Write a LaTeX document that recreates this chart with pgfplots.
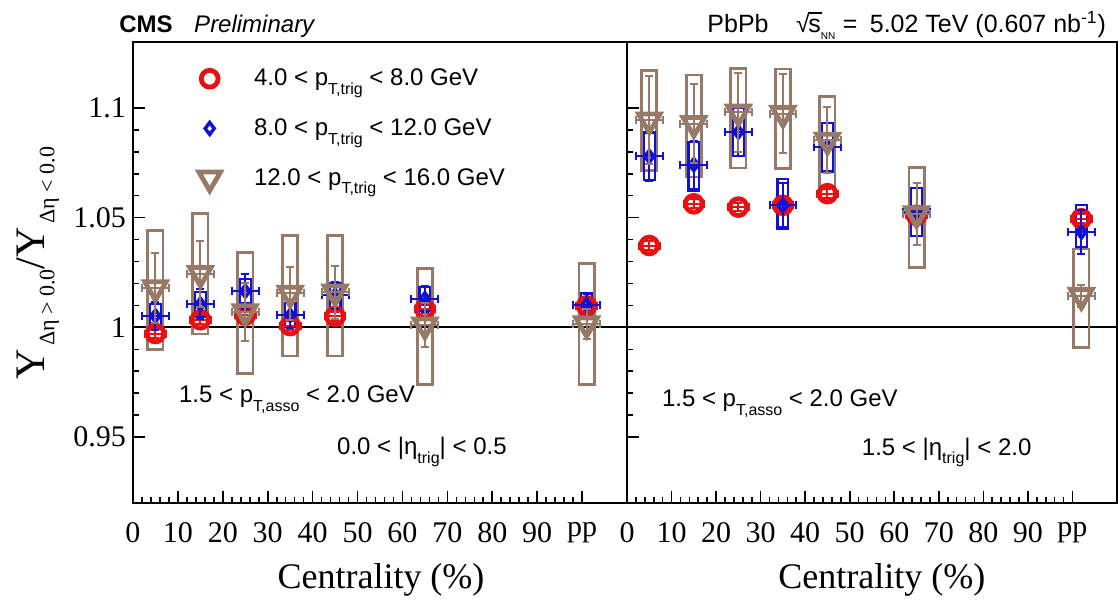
\documentclass[border=0pt]{standalone}
\usepackage{fontspec}
\setmainfont{Liberation Serif}
\newfontfamily\hv{Liberation Sans}
\usepackage{pgfplots}
\usepackage{pgfplotstable}
\pgfplotsset{compat=1.18}
\definecolor{cred}{RGB}{232,16,16}
\definecolor{cblue}{RGB}{16,16,214}
\definecolor{cbrown}{RGB}{150,121,102}

% x: centrality bin centre (pp plotted at ~101), y: ratio, ex/ey: stat. errors
\pgfplotstableread{
x y ex ey
5 0.9972 2.3 0.002
15 1.0035 2.3 0.002
25 1.0055 2.3 0.002
35 1.0008 2.3 0.002
45 1.0050 2.3 0.002
65 1.0084 2.3 0.002
101 1.0098 2.3 0.002
}\Lred
\pgfplotstableread{
x y ex ey
5 1.0052 3 0.0065
15 1.0106 3 0.007
25 1.0165 3 0.008
35 1.0055 3 0.006
45 1.0146 3 0.006
65 1.0130 3 0.006
101 1.0102 3 0.005
}\Lblue
\pgfplotstableread{
x y ex ey
5 1.0180 3 0.016
15 1.0245 3 0.015
25 1.0070 3 0.013
35 1.0155 3 0.012
45 1.0160 3 0.012
65 1.0010 3 0.010
101 1.0015 3 0.007
}\Lbrown
\pgfplotstableread{
x y ex ey
5 1.0373 2.3 0.002
15 1.0563 2.3 0.002
25 1.0548 2.3 0.002
35 1.0556 2.3 0.002
45 1.0609 2.3 0.002
65 1.0510 2.3 0.002
102 1.0495 2.3 0.002
}\Rred
\pgfplotstableread{
x y ex ey
5 1.0779 3 0.011
15 1.0741 3 0.011
25 1.0890 3 0.011
35 1.0556 3 0.010
45 1.0822 3 0.011
65 1.0525 3 0.011
102 1.0434 3 0.010
}\Rblue
\pgfplotstableread{
x y ex ey
5 1.0944 3 0.020
15 1.0928 3 0.018
25 1.0980 3 0.018
35 1.0974 3 0.018
45 1.0852 3 0.015
65 1.0517 3 0.014
102 1.0145 3 0.005
}\Rbrown

\pgfplotsset{
  cmsaxis/.style={
    scale only axis, height=230.5pt,
    xmin=0, xmax=110, ymin=0.92, ymax=1.13,
    xtick={0,10,...,100}, xticklabels={0,10,20,30,40,50,60,70,80,90,pp},
    minor x tick num=4,
    ytick={0.95,1,1.05,1.1}, minor y tick num=4,
    tick align=inside, xtick pos=left, ytick pos=left,
    major tick length=6pt, minor tick length=3pt,
    every tick/.style={black, line width=0.8pt},
    axis line style={line width=1pt},
    ticklabel style={font=\fontsize{15}{15}\selectfont},
    /pgf/number format/assume math mode=true,
    xticklabel style={yshift=-6pt},
    xlabel={Centrality (\%)},
    xlabel style={font=\fontsize{18}{18}\selectfont, anchor=center},
    unbounded coords=jump,
    clip mode=individual,
  },
  boxbrown/.style={forget plot, draw=cbrown, line width=1.4pt, line cap=rect, mark=none},
  boxblue/.style={forget plot, draw=cblue, line width=1.1pt, line cap=rect, mark=none},
  ebars/.style={error bars/.cd, x dir=both, x explicit, y dir=both, y explicit,
     error bar style={line width=1pt}, error mark options={rotate=90, mark size=2pt, line width=1pt}},
  sred/.style={only marks, color=cred, mark=o, mark size=4.2pt, mark options={line width=2.4pt}, ebars},
  sblue/.style={only marks, color=cblue, mark=diamond, mark size=3pt, mark options={line width=1.7pt}, ebars},
  sbrown/.style={only marks, color=cbrown, mark=triangle, mark size=6.2pt, mark options={rotate=180, line width=2.4pt}, ebars},
}
\tikzset{txt/.style={anchor=base west, font=\hv\fontsize{12}{12}\selectfont}}
\newcommand{\sub}[1]{\raisebox{-0.7ex}{\fontsize{8}{8}\selectfont #1}}

\begin{document}
\begin{tikzpicture}
\useasboundingbox (-66.5pt,-49pt) rectangle (492.5pt,251.5pt);
\begin{axis}[cmsaxis, width=247pt, at={(0pt,0pt)}, anchor=south west,
  ylabel={Y\raisebox{-0.5ex}{\fontsize{11}{11}\selectfont\,Δη > 0.0}/Y\raisebox{-0.5ex}{\fontsize{11}{11}\selectfont\,Δη < 0.0}},
  ylabel style={at={(axis description cs:-0.192,0.52)}, anchor=center, font=\fontsize{21}{21}\selectfont},
  xlabel style={at={(axis description cs:0.502,0)}, yshift=-38.5pt},
  legend style={at={(rel axis cs:0.101,0.96)}, anchor=north west, draw=none, fill=none,
    font=\hv\fontsize{12}{14}\selectfont, row sep=11pt},
  legend image code/.code={\draw[#1] plot coordinates {(0pt,0pt)}; \path (-10pt,0pt) (20pt,0pt);},
  legend cell align=left]
\addplot[black, line width=1pt, forget plot] coordinates {(0,1) (110,1)};
\addplot[boxbrown] coordinates {
(3.3,0.990) (6.7,0.990) (6.7,1.044) (3.3,1.044) (3.3,0.990) (5,nan)
(13.3,0.997) (16.7,0.997) (16.7,1.052) (13.3,1.052) (13.3,0.997) (15,nan)
(23.3,0.979) (26.7,0.979) (26.7,1.034) (23.3,1.034) (23.3,0.979) (25,nan)
(33.3,0.987) (36.7,0.987) (36.7,1.042) (33.3,1.042) (33.3,0.987) (35,nan)
(43.3,0.987) (46.7,0.987) (46.7,1.042) (43.3,1.042) (43.3,0.987) (45,nan)
(63.3,0.974) (66.7,0.974) (66.7,1.027) (63.3,1.027) (63.3,0.974) (65,nan)
(99.3,0.974) (102.7,0.974) (102.7,1.029) (99.3,1.029) (99.3,0.974)};
\addplot[boxblue] coordinates {
(3.8,0.9995) (6.2,0.9995) (6.2,1.0105) (3.8,1.0105) (3.8,0.9995) (5,nan)
(13.8,1.0050) (16.2,1.0050) (16.2,1.0160) (13.8,1.0160) (13.8,1.0050) (15,nan)
(23.8,1.0110) (26.2,1.0110) (26.2,1.0220) (23.8,1.0220) (23.8,1.0110) (25,nan)
(33.8,1.0000) (36.2,1.0000) (36.2,1.0110) (33.8,1.0110) (33.8,1.0000) (35,nan)
(43.8,1.0090) (46.2,1.0090) (46.2,1.0200) (43.8,1.0200) (43.8,1.0090) (45,nan)
(63.8,1.0075) (66.2,1.0075) (66.2,1.0185) (63.8,1.0185) (63.8,1.0075) (65,nan)
(99.8,1.0050) (102.2,1.0050) (102.2,1.0155) (99.8,1.0155) (99.8,1.0050)};
\addplot[sred] table[x=x, y=y, x error=ex, y error=ey] {\Lred};
\addlegendentry{4.0 < p\sub{T,trig} < 8.0 GeV}
\addplot[sblue] table[x=x, y=y, x error=ex, y error=ey] {\Lblue};
\addlegendentry{8.0 < p\sub{T,trig} < 12.0 GeV}
\addplot[sbrown] table[x=x, y=y, x error=ex, y error=ey] {\Lbrown};
\addlegendentry{12.0 < p\sub{T,trig} < 16.0 GeV}
\node[txt] at (rel axis cs:0.079,0.217) {1.5 < p\sub{T,asso} < 2.0 GeV};
\node[txt] at (rel axis cs:0.399,0.106) {0.0 < |η\sub{trig}| < 0.5};
\node[anchor=base west, yshift=5pt, font=\hv\fontsize{12}{12}\selectfont] at (rel axis cs:-0.042,1) {{\bfseries CMS}\hspace{0.9em}{\itshape Preliminary}};
\end{axis}
\begin{axis}[cmsaxis, width=245pt, at={(247pt,0pt)}, anchor=south west,
  yticklabels={},
  xlabel style={at={(axis description cs:0.52,0)}, yshift=-38.5pt}]
\addplot[black, line width=1pt, forget plot] coordinates {(0,1) (110,1)};
\addplot[boxbrown] coordinates {
(3.3,1.0715) (6.7,1.0715) (6.7,1.1172) (3.3,1.1172) (3.3,1.0715) (5,nan)
(13.3,1.0685) (16.7,1.0685) (16.7,1.1150) (13.3,1.1150) (13.3,1.0685) (15,nan)
(23.3,1.0726) (26.7,1.0726) (26.7,1.1180) (23.3,1.1180) (23.3,1.0726) (25,nan)
(33.3,1.0723) (36.7,1.0723) (36.7,1.1177) (33.3,1.1177) (33.3,1.0723) (35,nan)
(43.3,1.0586) (46.7,1.0586) (46.7,1.1050) (43.3,1.1050) (43.3,1.0586) (45,nan)
(63.3,1.0274) (66.7,1.0274) (66.7,1.0730) (63.3,1.0730) (63.3,1.0274) (65,nan)
(100.3,0.9910) (103.7,0.9910) (103.7,1.0357) (100.3,1.0357) (100.3,0.9910)};
\addplot[boxblue] coordinates {
(3.8,1.0670) (6.2,1.0670) (6.2,1.0888) (3.8,1.0888) (3.8,1.0670) (5,nan)
(13.8,1.0624) (16.2,1.0624) (16.2,1.0845) (13.8,1.0845) (13.8,1.0624) (15,nan)
(23.8,1.0780) (26.2,1.0780) (26.2,1.1000) (23.8,1.1000) (23.8,1.0780) (25,nan)
(33.8,1.0449) (36.2,1.0449) (36.2,1.0677) (33.8,1.0677) (33.8,1.0449) (35,nan)
(43.8,1.0710) (46.2,1.0710) (46.2,1.0930) (43.8,1.0930) (43.8,1.0710) (45,nan)
(63.8,1.0415) (66.2,1.0415) (66.2,1.0635) (63.8,1.0635) (63.8,1.0415) (65,nan)
(100.8,1.0365) (103.2,1.0365) (103.2,1.0556) (100.8,1.0556) (100.8,1.0365)};
\addplot[sred] table[x=x, y=y, x error=ex, y error=ey] {\Rred};
\addplot[sblue] table[x=x, y=y, x error=ex, y error=ey] {\Rblue};
\addplot[sbrown] table[x=x, y=y, x error=ex, y error=ey] {\Rbrown};
\node[txt] at (rel axis cs:0.057,0.21) {1.5 < p\sub{T,asso} < 2.0 GeV};
\node[txt] at (rel axis cs:0.465,0.104) {1.5 < |η\sub{trig}| < 2.0};
\node[anchor=base east, yshift=5pt, font=\hv\fontsize{12.5}{12.5}\selectfont] at (rel axis cs:0.992,1) {PbPb\hspace{1.1em}√\kern-0.06em\rlap{\rule[0.74em]{0.55em}{0.06em}}s\smash{\raisebox{-0.6ex}{\fontsize{5}{5}\selectfont NN}}\hspace{0.3em}=\hspace{0.5em}5.02 TeV (0.607 nb\textsuperscript{-1})};
\end{axis}
\end{tikzpicture}
\end{document}
